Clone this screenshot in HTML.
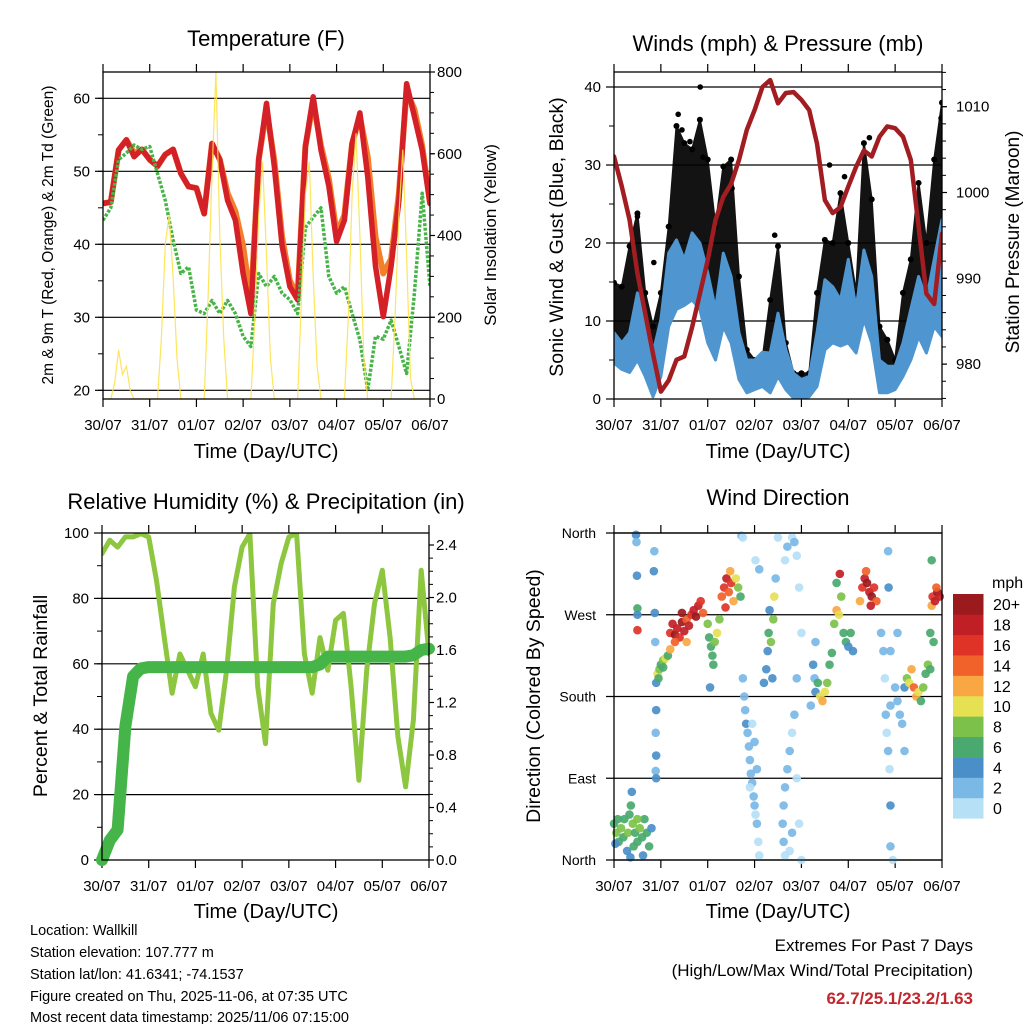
<!DOCTYPE html>
<html><head><meta charset="utf-8"><title>Station Meteogram</title>
<style>
html,body{margin:0;padding:0;background:#fff;}
svg{display:block;font-family:"Liberation Sans",Arial,sans-serif;}
</style></head>
<body>
<svg id="chart" width="1024" height="1024" viewBox="0 0 1024 1024" xmlns="http://www.w3.org/2000/svg">
<rect x="0" y="0" width="1024" height="1024" fill="#fff"/>
<text x="266" y="46" font-size="22" text-anchor="middle">Temperature (F)</text>
<text x="778" y="51" font-size="22" text-anchor="middle">Winds (mph) &amp; Pressure (mb)</text>
<text x="266" y="509" font-size="22" text-anchor="middle">Relative Humidity (%) &amp; Precipitation (in)</text>
<text x="778" y="505" font-size="22" text-anchor="middle">Wind Direction</text>
<text x="266" y="458" font-size="20" text-anchor="middle">Time (Day/UTC)</text>
<text x="778" y="458" font-size="20" text-anchor="middle">Time (Day/UTC)</text>
<text x="266" y="918" font-size="20" text-anchor="middle">Time (Day/UTC)</text>
<text x="778" y="918" font-size="20" text-anchor="middle">Time (Day/UTC)</text>
<text transform="translate(53,235) rotate(-90)" font-size="15.5" text-anchor="middle">2m &amp; 9m T (Red, Orange) &amp; 2m Td (Green)</text>
<text transform="translate(496,235) rotate(-90)" font-size="17" text-anchor="middle">Solar Insolation (Yellow)</text>
<text transform="translate(563,237) rotate(-90)" font-size="19.5" text-anchor="middle">Sonic Wind &amp; Gust (Blue, Black)</text>
<text transform="translate(1019,242) rotate(-90)" font-size="19" text-anchor="middle">Station Pressure (Maroon)</text>
<text transform="translate(47,696) rotate(-90)" font-size="19.5" text-anchor="middle">Percent &amp; Total Rainfall</text>
<text transform="translate(540,696) rotate(-90)" font-size="19.5" text-anchor="middle">Direction (Colored By Speed)</text>
<g font-size="14.5">
<text x="30" y="935">Location: Wallkill</text>
<text x="30" y="957">Station elevation: 107.777 m</text>
<text x="30" y="979">Station lat/lon: 41.6341; -74.1537</text>
<text x="30" y="1001">Figure created on Thu, 2025-11-06, at 07:35 UTC</text>
<text x="30" y="1022">Most recent data timestamp: 2025/11/06 07:15:00</text>
</g>
<g font-size="17" text-anchor="end">
<text x="973" y="951">Extremes For Past 7 Days</text>
<text x="973" y="976">(High/Low/Max Wind/Total Precipitation)</text>
<text x="973" y="1004" fill="#c1272d" font-weight="bold">62.7/25.1/23.2/1.63</text>
</g>
<text x="992" y="588" font-size="16">mph</text>
</svg>
<script>
// ---------- data ----------
const dayLabels = ["30/07","31/07","01/07","02/07","03/07","04/07","05/07","06/07"];
const dayTicks = [0,1,2,3,4,5,6,7];
const stepDays = 1/6;
const tempRed = [45.6,45.8,52.9,54.3,52,53,51.6,50.7,52.3,53,49.7,47.9,47.7,44.2,53.8,51.6,46,43.3,36,30.5,51.6,59.3,50.7,39.8,34.2,32.4,53.4,60.2,52.9,48,40.4,43.3,53.8,58,49.3,37,30.1,37,46,62,57.5,52.9,45.6];
const tempOrange = [45.6,45.8,52.9,54.3,52.5,53,51.6,50.7,52.3,53,49.7,47.9,47.7,44.2,53.8,51.6,47,44.5,39.8,32,51.6,58.5,51.5,41,35,33,53.4,59.5,53.5,49,41.5,44,53.8,57.5,52,41,36,38,47,61,58.5,53.5,45.6];
const dewGreen = [43.3,45,51.6,52.5,53.6,53,53.4,49.7,46,40.6,36,36.9,31,30.5,32.3,30.5,32.3,30.5,27.4,26,36,34.2,35.6,33.3,32.4,30.5,42.3,43.7,45,35.6,33.3,34.2,30.5,26.9,20,27.4,27,29.6,26,22.3,33.3,47,34.2];
const solarStep = 1/12;
const solar = [0,0,0,40,120,60,80,20,0,0,0,0, 0,0,0,150,380,450,300,100,0,0,0,0, 0,0,0,250,550,800,400,150,0,0,0,0, 0,0,0,200,450,580,350,100,0,0,0,0, 0,0,0,250,500,580,300,80,0,0,0,0, 0,0,0,200,500,650,400,100,0,0,0,0, 0,0,0,200,450,610,350,50,0,0,0,0, 0];
const windLo = [4.6,3.8,3.4,5,2.9,0.3,2.9,9.3,11.5,12,12.7,11.5,7.2,5,9.3,7.2,2.5,0.8,1.2,1.6,0.8,2.9,1.2,0.1,0.1,0.3,1.6,6.3,7.2,6.8,7.2,5.9,10.2,7.2,0.8,0.8,1.2,2.9,5,8,5.9,9.3,8];
const windHi = [8.5,7.2,8.5,13.6,11,5.9,10.2,18.7,20.4,17.9,21.3,20,16.2,11.5,18.7,15.7,8.5,5,5,6,5.9,11,6.3,3.3,2.5,2.9,8.5,15.3,14.4,12.7,17.9,11.5,19.1,15.7,5,4.2,4.2,7.2,11.5,15.7,12.7,17.9,23];
const gustHi = [14.9,14.4,19.6,23.8,13.6,9.3,13.6,22.1,35,32.8,32,35.8,30.7,22.1,29.8,30.7,15.7,6.3,5,5,12.7,19.6,7.2,3.3,3.3,3.3,13.6,20.4,20,26.4,20,13.6,32.8,25.6,9.3,7.6,5,13.6,17.9,27.7,20,30.7,38];
const gustPeakT = [1.84,1.37,1.45,1.9,0.5,0.85,3.43,4.6,4.92,1.62,2.52,5.45,6.98];
const gustPeakV = [40,36.5,34.5,31,23.4,17.5,21,30,28.5,33,27,33.5,36];
const pressure = [1004.2,1000.7,996.8,990.6,985.9,981.2,976.8,978.1,980.5,980.9,984.3,988.2,992.1,996.8,999.5,1001,1003.8,1007.3,1009.6,1012.3,1013.1,1010.4,1011.6,1011.7,1010.8,1009.6,1005.7,999.1,997.6,998.3,1000.7,1003,1004.9,1004.2,1006.5,1007.7,1007.5,1006.5,1003.8,996,988.2,987,995.2];
const humidity = [93.7,97.8,95.7,98.8,98.8,99.8,98.8,85.5,68,51,63,58,53,63,44.8,39.7,58,83.5,95.7,99.8,53,35.6,78.4,90.6,98.8,99.8,63,51,68,58,73.3,75.4,53,24.4,58,78.4,88.6,68,37.7,22.4,42.8,88.6,63];
const rainTotal = [0,0.15,0.23,1.02,1.4,1.46,1.47,1.47,1.47,1.47,1.47,1.47,1.47,1.47,1.47,1.47,1.47,1.47,1.47,1.47,1.47,1.47,1.47,1.47,1.47,1.47,1.47,1.47,1.49,1.55,1.55,1.55,1.55,1.55,1.55,1.55,1.55,1.55,1.55,1.55,1.56,1.6,1.61];
const dirTime = [0.0,0.05,0.08,0.1,0.15,0.2,0.22,0.28,0.3,0.33,0.36,0.38,0.4,0.42,0.45,0.5,0.55,0.6,0.62,0.65,0.7,0.75,0.8,0.03,0.35,0.5,
 0.47,0.48,0.49,0.5,0.5,0.5,
 0.86,0.85,0.87,0.88,0.9,0.9,0.89,0.9,0.89,0.9,
 0.93,0.97,1.0,1.05,1.1,1.15,1.2,0.95,1.05,
 1.2,1.25,1.3,1.35,1.4,1.45,1.5,1.55,1.6,1.65,1.7,1.75,1.8,1.85,1.9,1.3,1.55,1.45,
 2.0,2.03,2.07,2.1,2.12,2.15,2.2,2.25,2.05,
 2.3,2.35,2.4,2.45,2.5,2.55,2.6,2.65,2.7,2.48,2.38,
 2.72,2.75,2.75,2.78,2.8,2.82,2.85,2.88,2.9,2.92,2.95,2.98,3.0,3.02,3.05,3.08,3.1,2.95,3.0,2.9,3.05,3.02,3.1,
 3.2,3.25,3.28,3.3,3.35,3.4,3.42,3.38,3.32,3.45,3.5,
 3.65,3.7,3.8,3.85,3.9,3.95,4.0,3.9,3.85,3.8,3.75,3.7,3.65,3.62,3.6,3.62,3.65,3.75,3.8,3.9,4.0,3.95,
 4.25,4.28,4.3,4.35,4.4,4.45,4.5,4.55,4.6,4.3,4.65,4.2,
 4.7,4.75,4.8,4.85,4.9,4.95,5.0,5.05,5.1,4.75,4.82,
 5.25,5.3,5.35,5.4,5.45,5.5,5.55,5.6,5.38,5.48,
 5.7,5.75,5.78,5.8,5.82,5.85,5.88,5.9,6.0,6.05,6.1,6.15,6.2,5.85,5.86,5.9,5.9,5.9,5.95,6.05,6.2,
 6.25,6.3,6.35,6.4,6.45,6.5,6.55,6.6,6.65,6.7,
 6.75,6.78,6.8,6.85,6.9,6.95,6.88,6.78,6.75,6.82];
const dirDeg = [40,30,45,20,35,25,45,10,30,50,60,75,40,15,30,20,35,25,5,45,30,15,35,18,3,45,
 358,350,313,277,270,253,
 340,318,272,240,195,165,140,115,98,90,
 205,210,215,220,222,225,232,200,212,
 250,260,248,255,245,262,252,265,258,270,275,268,280,285,272,240,240,272,
 260,245,235,225,215,240,250,265,190,
 290,300,310,295,305,285,310,300,290,318,278,
 357,355,200,180,165,150,140,125,110,95,85,70,60,50,40,20,5,150,130,80,100,330,320,
 195,210,230,250,240,265,290,200,275,310,355,
 330,345,355,350,335,300,250,200,160,140,120,100,80,60,40,20,5,10,30,90,0,40,
 215,200,185,195,180,175,185,195,215,240,228,170,
 260,275,270,290,250,240,235,250,230,305,315,
 285,300,310,305,295,290,300,285,318,280,
 250,230,200,160,140,120,100,170,190,175,160,150,190,340,300,230,60,15,0,250,120,
 200,195,210,190,180,185,175,190,205,215,
 250,280,290,285,295,290,300,330,210,240];
const dirSpeed = [6,8,7,6,8,7,6,5,8,7,6,5,9,6,7,6,8,7,5,6,7,6,5,4,5,9,
 5,3,4,6,5,16,
 3,4,4,2,4,4,3,4,3,4,
 10,8,6,8,10,6,12,6,7,
 16,18,20,18,16,20,18,14,18,16,18,20,18,16,14,14,12,20,
 8,6,7,6,6,8,10,9,5,
 14,16,18,14,16,12,10,8,7,12,16,
 2,1,3,3,2,4,2,3,2,3,2,3,2,1,2,1,1,1,2,1,2,1,2,
 4,4,5,6,8,8,10,4,4,2,1,
 1,2,1,2,1,1,1,2,2,1,2,3,2,3,3,2,1,1,2,1,0,0,
 4,3,4,6,10,12,10,8,6,3,6,3,
 8,12,10,8,7,6,5,6,4,7,19,
 12,16,18,20,18,20,16,14,14,18,
 2,3,1,2,1,2,1,3,2,3,2,3,4,3,4,2,4,3,1,2,3,
 8,10,12,14,12,10,6,8,6,8,
 6,12,16,18,20,18,14,7,6,7];
const speedLabels = ["0","2","4","6","8","10","12","14","16","18","20+"];
const speedColors = ["#b5e0f6","#7ab9e6","#4a8fc8","#4aa96e","#7cc24a","#e6e053","#f9a742","#f1612a","#df3328","#c11f26","#9a1a1d"];
const tempTicks = [20,30,40,50,60];
const solarTicks = [0,200,400,600,800];
const windTicks = [0,10,20,30,40];
const pressTicks = [980,990,1000,1010];
const rhTicks = [0,20,40,60,80,100];
const rainTicks = [0,0.4,0.8,1.2,1.6,2.0,2.4];
const dirTicks = [0,90,180,270,360];
const dirNames = ["North","East","South","West","North"];

// ---------- layout ----------
const NS = "http://www.w3.org/2000/svg";
const svg = document.getElementById("chart");
const P1 = {x0:103,x1:430,y0:72,y1:399};
const P2 = {x0:614,x1:942,y0:72,y1:399};
const P3 = {x0:102,x1:429,y0:533,y1:860};
const P4 = {x0:614,x1:942,y0:533,y1:860};
const dayMax = 7;
function xs(P,t){ return P.x0 + t*(P.x1-P.x0)/dayMax; }
function lin(d0,d1,r0,r1){ return v => r0 + (v-d0)*(r1-r0)/(d1-d0); }
const yTemp = lin(60,20,98.3,390.3);
const ySolar = lin(0,800,399,72);
const yWind = lin(0,40,399,87);
const yPress = lin(1010,980,106.7,364.1);
const yRH = lin(0,100,860,533);
const yRain = lin(0,0.4,860,807.5);
const yDir = lin(0,360,860,533);

function mk(tag, attrs, parent){
  const e = document.createElementNS(NS, tag);
  for (const k in attrs) e.setAttribute(k, attrs[k]);
  (parent || svg).appendChild(e);
  return e;
}
function seg(x1,y1,x2,y2,name,w,col){
  const l = mk("line",{x1:x1,y1:y1,x2:x2,y2:y2,stroke:col||"#000","stroke-width":w||1});
  
  
  return l;
}
function label(x,y,s,size,anchor,name){
  const t = mk("text",{x:x,y:y,"font-size":size,"text-anchor":anchor});
  t.textContent = s;
  
  
  return t;
}
function frame(P,name){
  dayTicks.forEach((d,i)=>{
    const x = xs(P,d);
    seg(x,P.y1,x,P.y1+8,name+"-x-tick",1.2);
    seg(x,P.y0,x,P.y0-8,name+"-top-tick",1.2);
    label(x,P.y1+31,dayLabels[i],15,"middle",name+"-x-tick-label");
  });
}
function border(P,name){
  const r = mk("rect",{x:P.x0,y:P.y0,width:P.x1-P.x0,height:P.y1-P.y0,fill:"none",stroke:"#000","stroke-width":1.3});
  
  
}
function leftAxis(P,ticks,yf,labels,minorStep,name,grid){
  ticks.forEach((v,i)=>{
    const y = yf(v);
    if (grid && y > P.y0+1 && y < P.y1-1) seg(P.x0,y,P.x1,y,name+"-gridline",1.2);
    seg(P.x0-8,y,P.x0,y,name+"-left-tick",1.2);
    label(P.x0-13,y+5,labels[i],15,"end",name+"-left-tick-label");
  });
  if (minorStep){
    for (let v=ticks[0]-minorStep; ; v+=minorStep){
      const y = yf(v);
      if (y < P.y0) break;
      if (y <= P.y1) seg(P.x0-5,y,P.x0,y,name+"-left-minor-tick",1);
    }
  }
}
function rightAxis(P,ticks,yf,labels,minorStep,name,labelGap){
  ticks.forEach((v,i)=>{
    const y = yf(v);
    seg(P.x1,y,P.x1+5,y,name+"-right-tick",1.2);
    label(P.x1+labelGap,y+5,labels[i],15,"start",name+"-right-tick-label");
  });
  if (minorStep){
    for (let v=ticks[0]-minorStep*20; v<ticks[ticks.length-1]+minorStep*20; v+=minorStep){
      const y = yf(v);
      if (y >= P.y0 && y <= P.y1) seg(P.x1,y,P.x1+4,y,name+"-right-minor-tick",1);
    }
  }
}
function path(pts){ return pts.map((p,i)=>(i?"L":"M")+p[0].toFixed(1)+","+p[1].toFixed(1)).join(" "); }
function clip(P,id){
  const defs = mk("defs",{});
  const c = mk("clipPath",{id:id},defs);
  mk("rect",{x:P.x0,y:P.y0,width:P.x1-P.x0,height:P.y1-P.y0},c);
  const g = mk("g",{"clip-path":"url(#"+id+")"});
  return g;
}

// ---------- Panel 1: temperature ----------
leftAxis(P1,tempTicks,yTemp,tempTicks.map(String),5,"temperature",true);
rightAxis(P1,solarTicks,ySolar,solarTicks.map(String),50,"solar",7);
frame(P1,"temperature");
const g1 = clip(P1,"c1");
const orangeLine = mk("path",{d:path(tempOrange.map((v,i)=>[xs(P1,i*stepDays),yTemp(v)])),fill:"none",stroke:"#f47f2a","stroke-width":6,"stroke-linejoin":"round","stroke-linecap":"round"},g1);


const redLine = mk("path",{d:path(tempRed.map((v,i)=>[xs(P1,i*stepDays),yTemp(v)])),fill:"none",stroke:"#d42027","stroke-width":5.5,"stroke-linejoin":"round","stroke-linecap":"round"},g1);


const greenLine = mk("path",{d:path(dewGreen.map((v,i)=>[xs(P1,i*stepDays),yTemp(v)])),fill:"none",stroke:"#47b448","stroke-width":3.5,"stroke-dasharray":"3 1.6","stroke-linejoin":"round"},g1);


const solarLine = mk("path",{d:path(solar.map((v,i)=>[xs(P1,i*solarStep),ySolar(v)])),fill:"none",stroke:"#fde24a","stroke-width":1.2,opacity:0.9},g1);


border(P1,"temperature");

// ---------- Panel 2: winds & pressure ----------
leftAxis(P2,windTicks,yWind,windTicks.map(String),5,"wind",true);
rightAxis(P2,pressTicks,yPress,pressTicks.map(String),2,"pressure",14);
frame(P2,"winds");
const g2 = clip(P2,"c2");
const gustTop = gustHi.map((v,i)=>[xs(P2,i*stepDays),yWind(v)]);
const loPts = windLo.map((v,i)=>[xs(P2,i*stepDays),yWind(v)]);
const gustBand = mk("path",{d:path(gustTop.concat(loPts.slice().reverse()))+"Z",fill:"#000",stroke:"#000","stroke-width":2,"stroke-linejoin":"round",opacity:0.92},g2);


gustHi.forEach((v,i)=>{
  const c = mk("circle",{cx:xs(P2,i*stepDays),cy:yWind(v),r:3},g2);
  
  
});
gustPeakT.forEach((t,i)=>{
  const c = mk("circle",{cx:xs(P2,t),cy:yWind(gustPeakV[i]),r:2.8},g2);
  
  
});
const hiPts = windHi.map((v,i)=>[xs(P2,i*stepDays),yWind(v)]);
const windBand = mk("path",{d:path(hiPts.concat(loPts.slice().reverse()))+"Z",fill:"#4f96d1",stroke:"#4f96d1","stroke-width":3,"stroke-linejoin":"round"},g2);


const pressLine = mk("path",{d:path(pressure.map((v,i)=>[xs(P2,i*stepDays),yPress(v)])),fill:"none",stroke:"#a11d21","stroke-width":4.5,"stroke-linejoin":"round","stroke-linecap":"round"},g2);


border(P2,"winds");

// ---------- Panel 3: humidity & rain ----------
leftAxis(P3,rhTicks,yRH,rhTicks.map(String),10,"humidity",true);
rightAxis(P3,rainTicks,yRain,rainTicks.map(v=>v.toFixed(1)),0.1,"rain",7);
frame(P3,"humidity");
const g3 = clip(P3,"c3");
const rhLine = mk("path",{d:path(humidity.map((v,i)=>[xs(P3,i*stepDays),yRH(v)])),fill:"none",stroke:"#8dc63f","stroke-width":5,"stroke-linejoin":"round","stroke-linecap":"round"},g3);


const rainLine = mk("path",{d:path(rainTotal.map((v,i)=>[xs(P3,i*stepDays),yRain(v)])),fill:"none",stroke:"#45b549","stroke-width":12,"stroke-linejoin":"round","stroke-linecap":"round"});


border(P3,"humidity");

// ---------- Panel 4: wind direction ----------
dirTicks.forEach((v,i)=>{
  const y = yDir(v);
  seg(P4.x0-8,y,P4.x1,y,"direction-gridline",1.2);
  label(P4.x0-18,y+5,dirNames[i],14,"end","direction-tick-label");
});
frame(P4,"direction");
const g4 = mk("g",{});
dirTime.forEach((t,i)=>{
  const bin = Math.min(10, Math.max(0, Math.floor(dirSpeed[i]/2)));
  const c = mk("circle",{cx:xs(P4,t),cy:yDir(dirDeg[i]),r:4.3,fill:speedColors[bin],opacity:0.92},g4);
  
  
});
border(P4,"direction");

// colorbar
const cbH = (818.3-594)/speedColors.length;
speedColors.forEach((col,i)=>{
  const y = 818.3 - (i+1)*cbH;
  const r = mk("rect",{x:953,y:y,width:30.5,height:cbH+0.3,fill:col});
  
  
  label(993,y+cbH/2+6,speedLabels[i],16,"start","colorbar-label");
});
</script>
</body></html>
